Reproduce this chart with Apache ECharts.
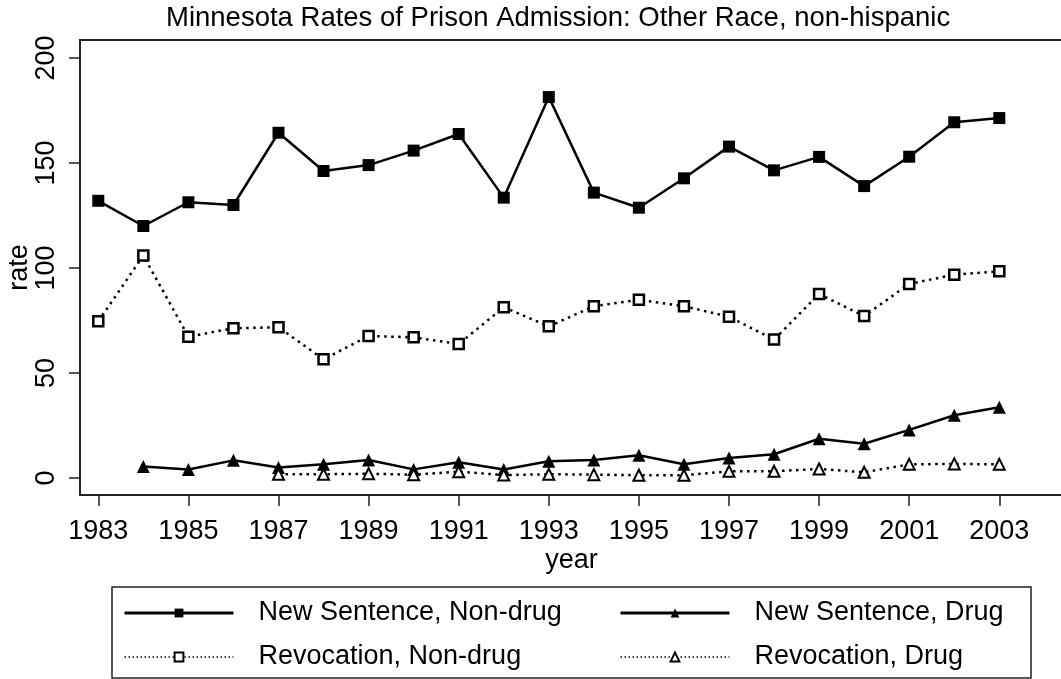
<!DOCTYPE html>
<html>
<head>
<meta charset="utf-8">
<script src="https://cdn.jsdelivr.net/npm/echarts@6/dist/echarts.min.js"></script>
<style>
  html, body { margin: 0; padding: 0; background: #fff; }
  #main { width: 1061px; height: 679px; }
</style>
</head>
<body>
<div id="main"></div>
<script>
// years and rates
var years = [1983, 1984, 1985, 1986, 1987, 1988, 1989, 1990, 1991, 1992, 1993,
  1994, 1995, 1996, 1997, 1998, 1999, 2000, 2001, 2002, 2003]
var yearTicks = [1983, 1985, 1987, 1989, 1991, 1993, 1995, 1997, 1999, 2001, 2003]
var rateTicks = [0, 50, 100, 150, 200]

var newNonDrug = [132, 120, 131.3, 130, 164.4, 146.2, 149, 155.9, 163.8, 133.5, 181.4,
  135.9, 128.7, 142.7, 157.8, 146.5, 152.9, 139, 153, 169.4, 171.4]
var revNonDrug = [74.6, 105.9, 67.3, 71.3, 71.8, 56.5, 67.6, 67, 63.8, 81.3, 72.2,
  81.8, 84.9, 81.8, 76.8, 65.9, 87.6, 77.1, 92.4, 96.8, 98.4]
// drug series start later
var newDrug = [null, 5.5, 4, 8.4, 5, 6.5, 8.6, 4.1, 7.5, 4, 8,
  8.6, 10.8, 6.5, 9.5, 11.3, 18.7, 16.3, 22.9, 29.9, 33.7]
var revDrug = [null, null, null, null, 1.8, 1.8, 2, 1.6, 3, 1.4, 1.8,
  1.6, 1.3, 1.3, 3.2, 3.2, 4.3, 2.7, 6.5, 6.7, 6.5]

var names = ['New Sentence, Non-drug', 'Revocation, Non-drug', 'New Sentence, Drug', 'Revocation, Drug']

var FONT = 'Liberation Sans, Arial, Helvetica, sans-serif'

function pairs (vals) {
  var out = []
  years.forEach(function (y, i) {
    if (vals[i] !== null) out.push([y, vals[i]])
  })
  return out
}

var chart = echarts.init(document.getElementById('main'), null, { renderer: 'canvas' })

var solid = { color: '#000', width: 2.5, type: 'solid' }
var dotted = { color: '#000', width: 2.5, type: [2.5, 4.5], cap: 'butt' }
// legend keys use a finer dotted line
var legendDotted = { color: '#000', width: 1.5, type: [1.5, 2.5], cap: 'butt' }
var legendSolid = { color: '#000', width: 3, type: 'solid' }

var legendText = {
  color: '#000',
  fontFamily: FONT,
  fontSize: 27,
  lineHeight: 30,
  padding: [0, 0, 0, 20]
}

chart.setOption({
  animation: false,
  backgroundColor: '#fff',
  title: {
    text: 'Minnesota Rates of Prison Admission: Other Race, non-hispanic',
    left: 166,
    top: 4,
    padding: 0,
    textStyle: { color: '#000', fontFamily: FONT, fontSize: 27.5, fontWeight: 'normal' }
  },
  grid: {
    show: true,
    left: 80,
    top: 40,
    width: 983,
    height: 455,
    borderColor: '#222',
    borderWidth: 2,
    containLabel: false,
    outerBoundsMode: 'none'
  },
  xAxis: {
    type: 'value',
    min: 1982.594,
    max: 2004.414,
    name: 'year',
    nameLocation: 'middle',
    nameGap: 52,
    nameMoveOverlap: false,
    nameTextStyle: { color: '#000', fontFamily: FONT, fontSize: 27 },
    splitLine: { show: false },
    axisLine: { show: true, onZero: false, lineStyle: { color: '#222', width: 2 } },
    axisTick: { show: true, length: 11, customValues: yearTicks, lineStyle: { color: '#222', width: 1.5 } },
    axisLabel: {
      customValues: yearTicks,
      margin: 23,
      color: '#000',
      fontFamily: FONT,
      fontSize: 27,
      formatter: function (v) { return String(v) }
    }
  },
  yAxis: {
    type: 'value',
    min: -8.1,
    max: 208.57,
    name: 'rate',
    nameLocation: 'middle',
    nameRotate: 90,
    nameGap: 47,
    nameMoveOverlap: false,
    nameTextStyle: { color: '#000', fontFamily: FONT, fontSize: 27 },
    splitLine: { show: false },
    axisLine: { show: true, onZero: false, lineStyle: { color: '#222', width: 2 } },
    axisTick: { show: true, length: 11, customValues: rateTicks, lineStyle: { color: '#222', width: 1.5 } },
    axisLabel: {
      customValues: rateTicks,
      rotate: 90,
      margin: 20,
      color: '#000',
      fontFamily: FONT,
      fontSize: 27
    }
  },
  legend: [
    {
      orient: 'vertical',
      left: 123,
      top: 598,
      padding: 0,
      itemGap: 14,
      itemWidth: 109,
      itemHeight: 11,
      data: [
        { name: names[0], lineStyle: legendSolid },
        { name: names[1], lineStyle: legendDotted }
      ],
      textStyle: legendText
    },
    {
      orient: 'vertical',
      left: 619,
      top: 598,
      padding: 0,
      itemGap: 14,
      itemWidth: 109,
      itemHeight: 11,
      data: [
        { name: names[2], lineStyle: legendSolid },
        { name: names[3], lineStyle: legendDotted }
      ],
      textStyle: legendText
    }
  ],
  graphic: [
    {
      type: 'rect',
      shape: { x: 112, y: 587, width: 919, height: 91 },
      style: { fill: 'none', stroke: '#222', lineWidth: 1.5 },
      silent: true
    }
  ],
  series: [
    {
      name: names[0],
      type: 'line',
      data: pairs(newNonDrug),
      symbol: 'rect',
      symbolSize: 12,
      itemStyle: { color: '#000' },
      lineStyle: solid
    },
    {
      name: names[1],
      type: 'line',
      data: pairs(revNonDrug),
      symbol: 'rect',
      symbolSize: 10,
      itemStyle: { color: '#fff', borderColor: '#000', borderWidth: 2.5 },
      lineStyle: dotted
    },
    {
      name: names[2],
      type: 'line',
      data: pairs(newDrug),
      symbol: 'triangle',
      symbolSize: 13,
      itemStyle: { color: '#000' },
      lineStyle: solid
    },
    {
      name: names[3],
      type: 'line',
      data: pairs(revDrug),
      symbol: 'triangle',
      symbolSize: 11,
      itemStyle: { color: '#fff', borderColor: '#000', borderWidth: 2 },
      lineStyle: dotted
    }
  ]
})
</script>
</body>
</html>
